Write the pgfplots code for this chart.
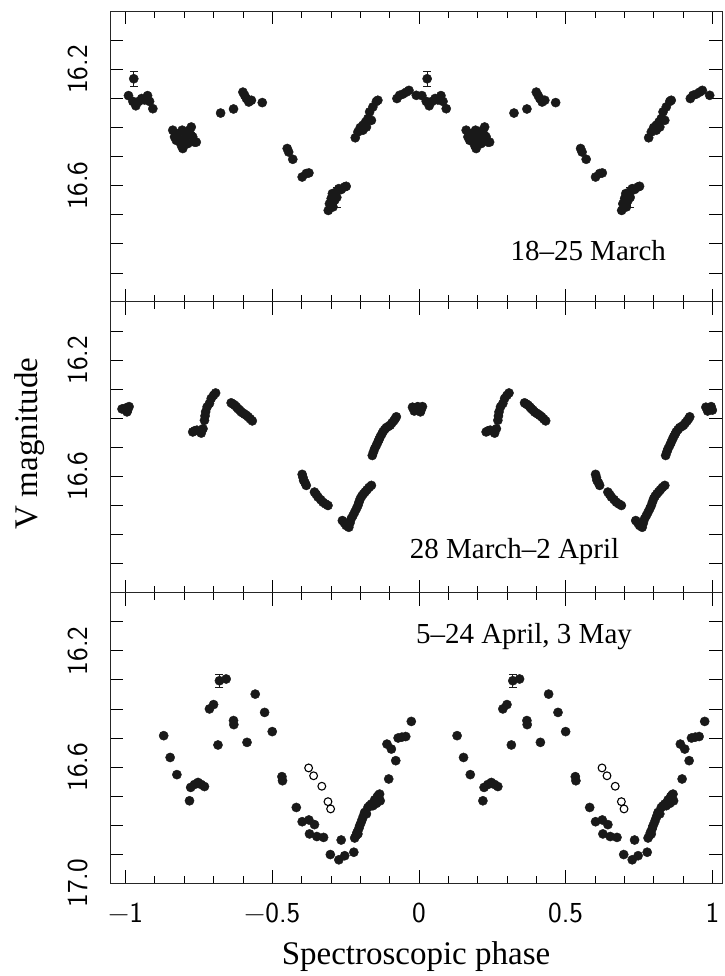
\documentclass[border=0pt]{standalone}
\usepackage{fontspec}
\setmainfont{Liberation Serif}
\usepackage{pgfplots}
\pgfplotsset{compat=1.18}
\usepackage{pgfplotstable}

\pgfplotstableread{
x y
-0.990 16.290
-0.975 16.310
-0.965 16.325
-0.955 16.310
-0.945 16.300
-0.935 16.305
-0.925 16.290
-0.918 16.310
-0.907 16.335
-0.839 16.409
-0.833 16.432
-0.827 16.444
-0.822 16.421
-0.816 16.444
-0.810 16.461
-0.807 16.409
-0.805 16.472
-0.799 16.438
-0.793 16.427
-0.788 16.455
-0.782 16.409
-0.776 16.398
-0.776 16.427
-0.771 16.432
-0.765 16.450
-0.759 16.450
-0.676 16.350
-0.632 16.336
-0.600 16.278
-0.594 16.289
-0.588 16.300
-0.580 16.312
-0.571 16.306
-0.534 16.314
-0.449 16.472
-0.444 16.484
-0.430 16.509
-0.398 16.570
-0.384 16.558
-0.375 16.556
-0.309 16.685
-0.305 16.662
-0.299 16.644
-0.295 16.627
-0.293 16.673
-0.287 16.650
-0.282 16.622
-0.273 16.610
-0.265 16.613
-0.253 16.604
-0.248 16.602
-0.217 16.435
-0.208 16.415
-0.200 16.400
-0.191 16.392
-0.191 16.409
-0.182 16.381
-0.179 16.398
-0.174 16.369
-0.168 16.346
-0.162 16.375
-0.157 16.329
-0.145 16.310
-0.140 16.306
-0.075 16.300
-0.066 16.289
-0.055 16.285
-0.043 16.278
-0.034 16.272
-0.009 16.289
}\topdata

\pgfplotstableread{
x y e
-0.972 16.232 0.025
-0.280 16.640 0.035
}\toperr

\pgfplotstableread{
x y
-1.012 16.368
-1.000 16.365
-0.995 16.378
-0.993 16.372
-0.988 16.360
-0.771 16.447
-0.764 16.443
-0.757 16.441
-0.747 16.445
-0.742 16.451
-0.736 16.436
-0.731 16.407
-0.729 16.392
-0.727 16.378
-0.722 16.361
-0.714 16.349
-0.708 16.332
-0.700 16.321
-0.693 16.313
-0.640 16.347
-0.634 16.351
-0.628 16.355
-0.622 16.361
-0.617 16.367
-0.611 16.372
-0.606 16.378
-0.600 16.382
-0.594 16.386
-0.588 16.390
-0.582 16.395
-0.575 16.402
-0.568 16.409
-0.398 16.593
-0.395 16.604
-0.393 16.614
-0.388 16.622
-0.384 16.631
-0.356 16.654
-0.350 16.662
-0.344 16.671
-0.335 16.680
-0.327 16.689
-0.318 16.695
-0.310 16.700
-0.261 16.752
-0.254 16.760
-0.248 16.769
-0.239 16.775
-0.235 16.760
-0.231 16.746
-0.225 16.735
-0.219 16.723
-0.213 16.711
-0.208 16.700
-0.204 16.688
-0.200 16.677
-0.195 16.668
-0.189 16.660
-0.183 16.653
-0.177 16.646
-0.170 16.638
-0.162 16.631
-0.159 16.528
-0.155 16.516
-0.151 16.505
-0.145 16.493
-0.140 16.482
-0.136 16.473
-0.132 16.464
-0.127 16.455
-0.123 16.447
-0.117 16.439
-0.111 16.432
-0.104 16.428
-0.098 16.424
-0.092 16.416
-0.086 16.409
-0.081 16.402
-0.077 16.395
-0.022 16.362
-0.016 16.375
-0.012 16.368
-0.004 16.360
0.000 16.372
}\middata

\pgfplotstableread{
x y
-0.870 16.492
-0.848 16.567
-0.825 16.626
-0.782 16.716
-0.778 16.670
-0.765 16.660
-0.753 16.653
-0.742 16.660
-0.731 16.667
-0.714 16.400
-0.700 16.385
-0.685 16.524
-0.657 16.297
-0.632 16.440
-0.631 16.454
-0.586 16.515
-0.558 16.349
-0.526 16.412
-0.500 16.478
-0.467 16.633
-0.465 16.647
-0.418 16.739
-0.398 16.788
-0.375 16.782
-0.356 16.798
-0.373 16.830
-0.348 16.839
-0.325 16.842
-0.302 16.901
-0.273 16.919
-0.253 16.905
-0.265 16.851
-0.222 16.893
-0.219 16.844
-0.214 16.835
-0.211 16.825
-0.208 16.830
-0.205 16.812
-0.202 16.802
-0.197 16.790
-0.193 16.779
-0.189 16.768
-0.185 16.756
-0.179 16.761
-0.174 16.739
-0.168 16.733
-0.162 16.727
-0.157 16.733
-0.151 16.713
-0.145 16.725
-0.142 16.702
-0.138 16.697
-0.134 16.693
-0.132 16.716
-0.103 16.641
-0.109 16.521
-0.094 16.538
-0.079 16.578
-0.071 16.500
-0.058 16.497
-0.045 16.495
-0.026 16.443
}\botdata

\pgfplotstableread{
x y e
-0.680 16.303 0.023
}\boterr

\pgfplotstableread{
x y
-0.376 16.603
-0.359 16.630
-0.331 16.666
-0.310 16.719
-0.301 16.744
}\botopen

\begin{document}
\begin{tikzpicture}
\pgfplotsset{
  panel/.style={
    width=612pt, height=290.67pt, scale only axis,
    xmin=-1.053, xmax=1.033, ymin=16, ymax=17, y dir=reverse,
    xtick={-1,-0.5,0,0.5,1}, minor x tick num=4,
    tick pos=both, tick align=inside,
    major tick length=13pt, minor tick length=7pt,
    every tick/.style={black, line width=0.8pt},
    axis line style={line width=1pt, black!85},
    ticklabel style={font=\sffamily\fontsize{29}{30}\selectfont},
    yticklabel style={rotate=90, anchor=south, inner sep=0pt},
    yticklabel shift=22pt,
    xticklabel style={anchor=north, inner sep=0pt},
    xticklabel shift=19pt,
    clip=false,
  },
  dots/.style={only marks, mark=*, mark size=4.6pt, color=black!90, mark options={fill=black!90}},
  errs/.style={only marks, mark=*, mark size=4.6pt, color=black!90,
    error bars/.cd, y dir=both, y explicit,
    error bar style={line width=0.8pt},
    error mark options={rotate=90, mark size=4pt, line width=0.8pt}},
  opens/.style={only marks, mark=o, mark size=3.9pt, color=black, mark options={line width=1.1pt}},
}
% top panel
\begin{axis}[panel, at={(110pt,674pt)},
  xticklabels={},
  ytick={16.1,16.2,16.3,16.4,16.5,16.6,16.7,16.8,16.9},
  yticklabels={,16.2,,,,16.6,,,}]
\addplot[dots] table[x=x,y=y] {\topdata};
\addplot[dots] table[x expr=\thisrow{x}+1,y=y] {\topdata};
\addplot[errs] table[x=x,y=y,y error=e] {\toperr};
\addplot[errs] table[x expr=\thisrow{x}+1,y=y,y error=e] {\toperr};
\node[anchor=base, font=\fontsize{29}{30}\selectfont] at (axis cs:0.577,16.857) {18--25 March};
\end{axis}
% middle panel
\begin{axis}[panel, at={(110pt,383.33pt)},
  xticklabels={},
  ytick={16.1,16.2,16.3,16.4,16.5,16.6,16.7,16.8,16.9},
  yticklabels={,16.2,,,,16.6,,,}]
\addplot[dots] table[x=x,y=y] {\middata};
\addplot[dots] table[x expr=\thisrow{x}+1,y=y] {\middata};
\node[anchor=base, font=\fontsize{29}{30}\selectfont] at (axis cs:0.326,16.881) {28 March--2 April};
\end{axis}
% bottom panel
\begin{axis}[panel, at={(110pt,92.67pt)},
  xticklabels={\textminus 1,\textminus 0.5,0,0.5,1},
  ytick={16.1,16.2,16.3,16.4,16.5,16.6,16.7,16.8,16.9,17.0},
  yticklabels={,16.2,,,,16.6,,,,17.0}]
\addplot[dots] table[x=x,y=y] {\botdata};
\addplot[dots] table[x expr=\thisrow{x}+1,y=y] {\botdata};
\addplot[errs] table[x=x,y=y,y error=e] {\boterr};
\addplot[errs] table[x expr=\thisrow{x}+1,y=y,y error=e] {\boterr};
\addplot[opens] table[x=x,y=y] {\botopen};
\addplot[opens] table[x expr=\thisrow{x}+1,y=y] {\botopen};
\node[anchor=base, font=\fontsize{29}{30}\selectfont] at (axis cs:0.358,16.175) {5--24 April, 3 May};
\end{axis}
\node[rotate=90, anchor=base, font=\fontsize{33}{36}\selectfont] at (37pt,532.5pt) {V magnitude};
\node[anchor=base, font=\fontsize{33}{36}\selectfont] at (416pt,11pt) {Spectroscopic phase};
\pgfresetboundingbox
\path[use as bounding box] (0pt,0pt) rectangle (724pt,976pt);
\end{tikzpicture}
\end{document}
